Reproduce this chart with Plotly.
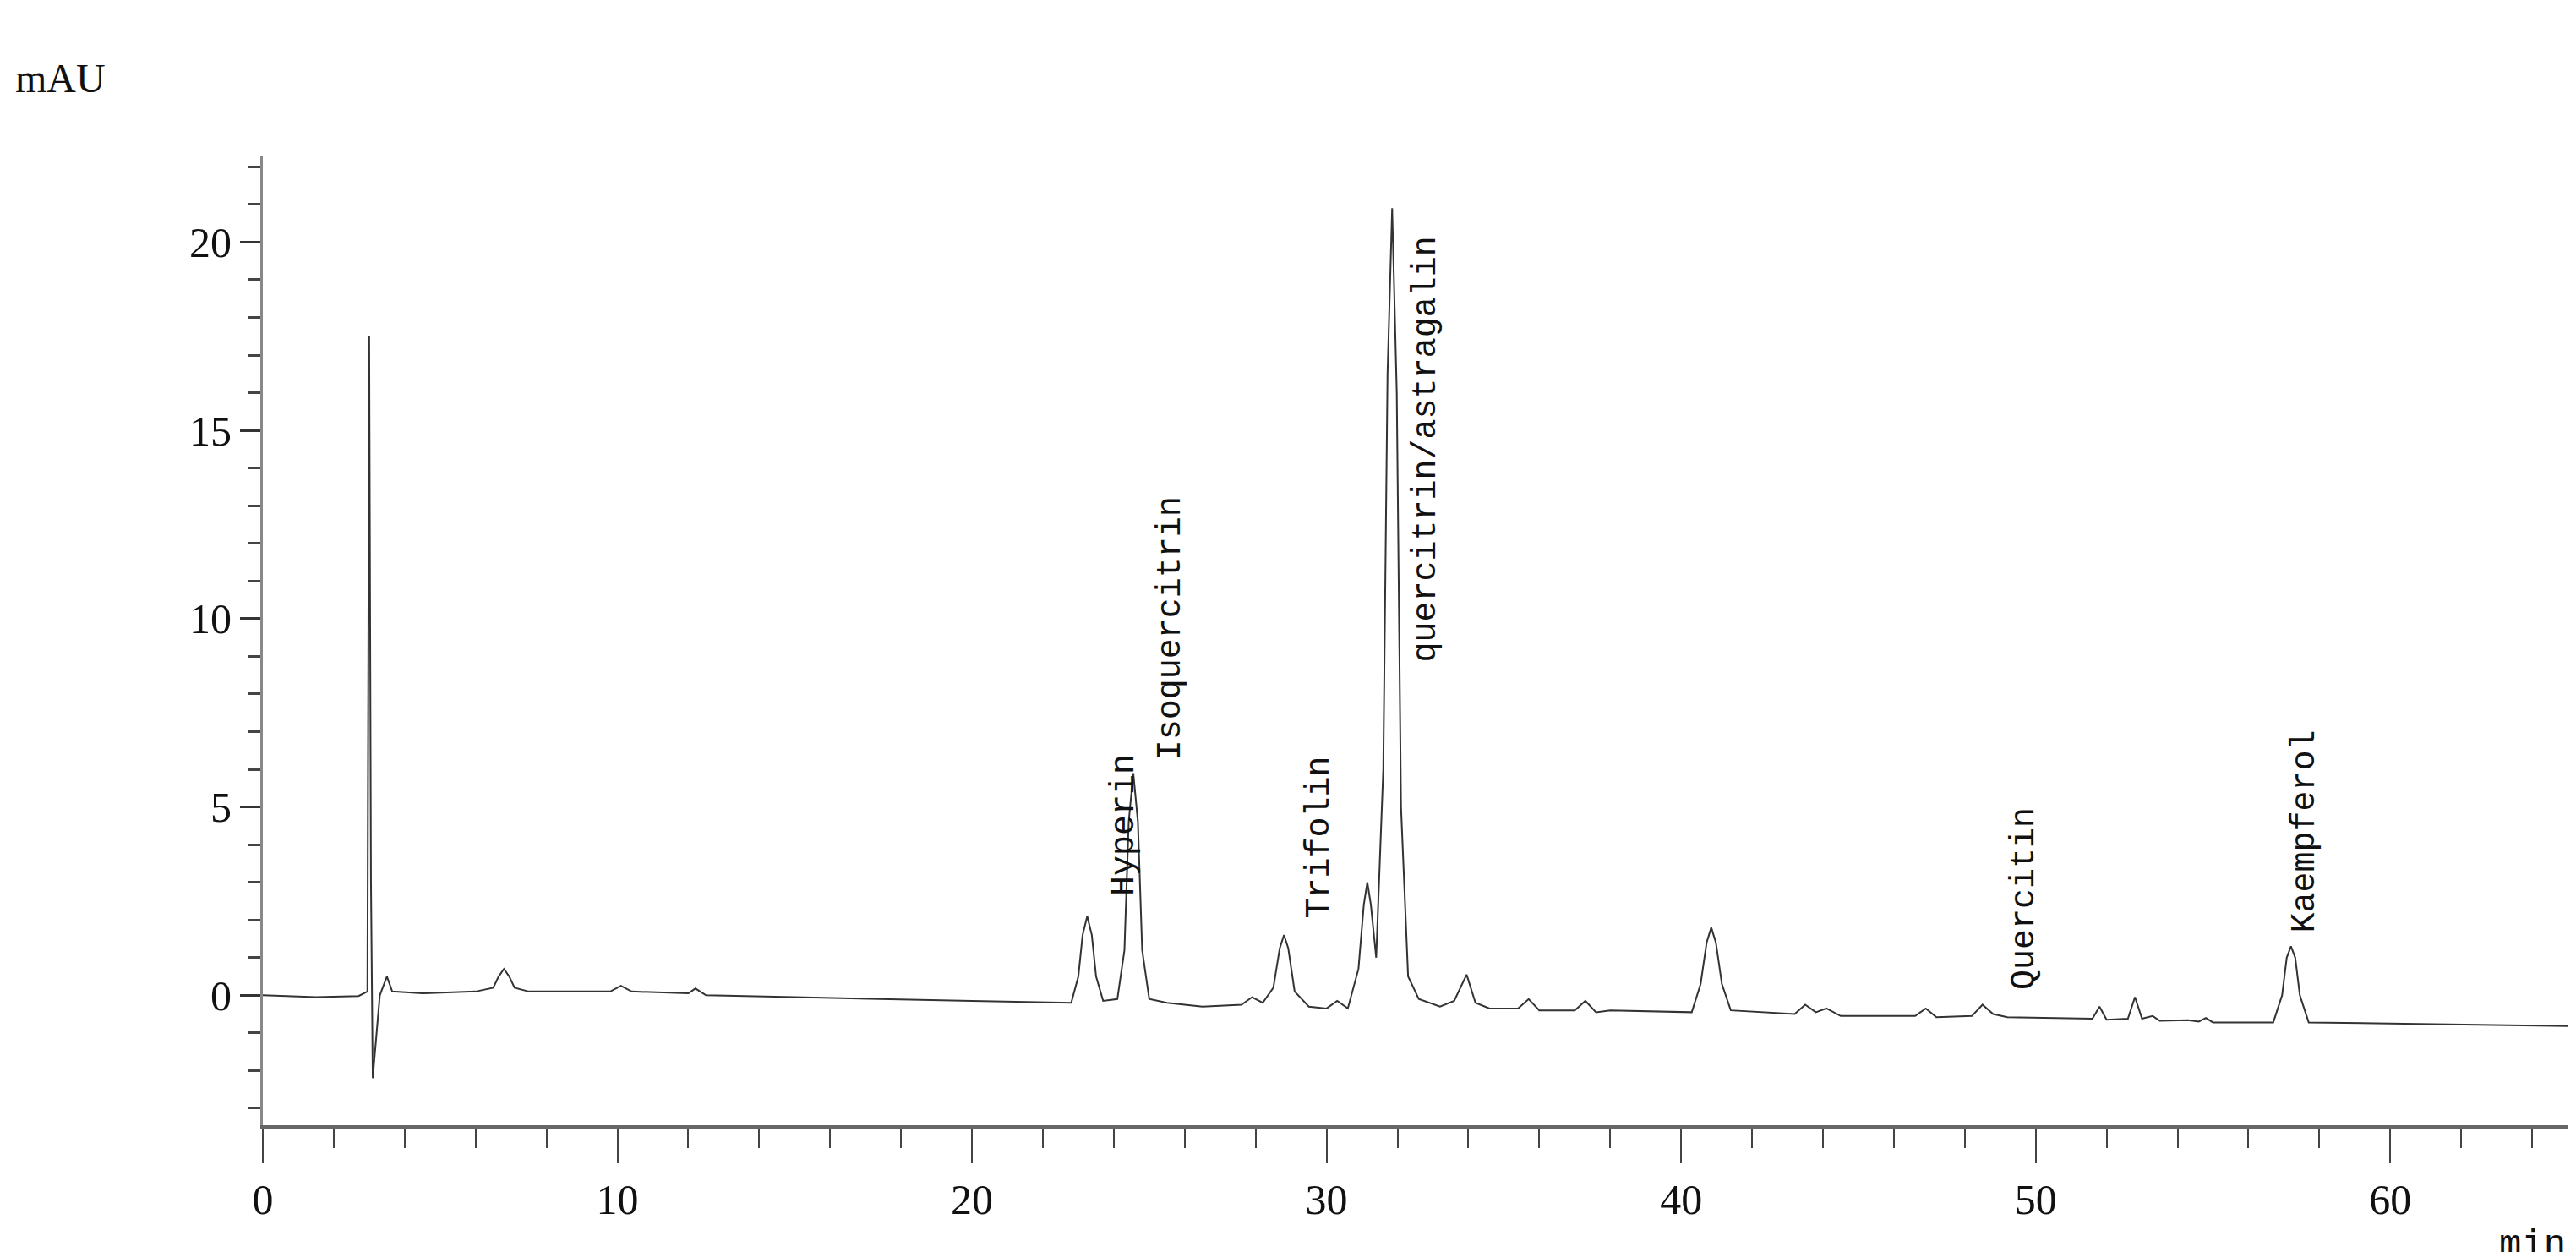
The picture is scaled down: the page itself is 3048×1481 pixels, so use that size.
import plotly.graph_objects as go

# retention time (min) and absorbance (mAU)
time_min = [0, 1.5, 2.7, 2.95, 3.0, 3.05, 3.1, 3.2, 3.3, 3.5, 3.65, 4.5, 6.0, 6.5, 6.65, 6.8, 6.95, 7.1, 7.5,
            9.8, 10.1, 10.4, 12.0, 12.2, 12.5, 15, 18, 20, 22.8, 23.0, 23.12, 23.25, 23.38, 23.5, 23.7,
            24.1, 24.3, 24.42, 24.55, 24.68, 24.8, 25.0, 25.5, 26.5, 27.6, 27.9, 28.2, 28.5, 28.68, 28.8,
            28.92, 29.1, 29.5, 30.0, 30.3, 30.6, 30.9, 31.05, 31.15, 31.25, 31.4, 31.6, 31.72, 31.85,
            31.98, 32.1, 32.3, 32.6, 33.2, 33.6, 33.95, 34.2, 34.6, 35.4, 35.7, 36.0, 37.0, 37.3, 37.6,
            38.0, 40.3, 40.55, 40.72, 40.85, 40.98, 41.15, 41.4, 43.2, 43.5, 43.8, 44.1, 44.5, 46.6,
            46.9, 47.2, 48.2, 48.5, 48.8, 49.2, 51.6, 51.8, 52.0, 52.6, 52.8, 53.0, 53.3, 53.5, 54.3,
            54.6, 54.8, 55.0, 56.7, 56.95, 57.08, 57.2, 57.32, 57.45, 57.7, 60, 62, 65]
signal_mau = [0.0, -0.05, -0.02, 0.1, 17.5, 3.0, -2.2, -1.0, 0.0, 0.5, 0.1, 0.05, 0.1, 0.2, 0.5, 0.7, 0.5, 0.2, 0.1,
              0.1, 0.25, 0.1, 0.05, 0.18, 0.0, -0.05, -0.12, -0.15, -0.2, 0.5, 1.6, 2.1, 1.6, 0.5, -0.15,
              -0.1, 1.2, 4.6, 5.9, 4.6, 1.2, -0.1, -0.2, -0.3, -0.25, -0.05, -0.2, 0.2, 1.25, 1.6,
              1.25, 0.1, -0.3, -0.35, -0.15, -0.35, 0.7, 2.4, 3.0, 2.4, 1.0, 6.0, 16.5, 20.9,
              16.0, 5.0, 0.5, -0.1, -0.3, -0.15, 0.55, -0.2, -0.35, -0.35, -0.1, -0.4, -0.4, -0.15, -0.45,
              -0.4, -0.45, 0.3, 1.4, 1.8, 1.4, 0.3, -0.4, -0.5, -0.25, -0.45, -0.35, -0.55, -0.55,
              -0.35, -0.58, -0.55, -0.25, -0.5, -0.58, -0.62, -0.3, -0.65, -0.62, -0.05, -0.62, -0.55, -0.68, -0.66,
              -0.7, -0.6, -0.72, -0.72, 0.0, 1.0, 1.3, 1.0, 0.0, -0.72, -0.75, -0.78, -0.82]

# peak labels: name, x position (min), bottom of the text (mAU)
peak_names = ["Hyperin", "Isoquercitrin", "Trifolin", "quercitrin/astragalin", "Quercitin", "Kaempferol"]
label_x = [24.3, 25.6, 29.8, 32.8, 49.7, 57.6]
label_y = [2.6, 6.2, 2.0, 8.8, 0.1, 1.6]

fig = go.Figure()
fig.add_trace(go.Scatter(x=time_min, y=signal_mau, mode="lines",
                         line=dict(color="#333333", width=2), showlegend=False))

for name, x, y in zip(peak_names, label_x, label_y):
    fig.add_annotation(x=x, y=y, text=name, showarrow=False, textangle=-90,
                       yanchor="bottom", xanchor="center",
                       font=dict(family="Liberation Mono", size=40, color="#111111"))

fig.add_annotation(xref="paper", yref="paper", x=-0.108, y=1.105, text="mAU", showarrow=False,
                   xanchor="left", font=dict(family="Liberation Serif", size=48, color="#111111"))
fig.add_annotation(xref="paper", yref="paper", x=1.0, y=-0.1, text="min", showarrow=False,
                   xanchor="right", yanchor="top",
                   font=dict(family="Liberation Mono", size=44, color="#111111"))

fig.update_layout(
    width=3048, height=1481,
    paper_bgcolor="white", plot_bgcolor="white",
    margin=dict(l=303, r=18, t=176, b=158),
    font=dict(family="Liberation Serif", size=50, color="#111111"),
    xaxis=dict(range=[0, 65], dtick=10, showgrid=False, zeroline=False,
               showline=True, linecolor="#666666", linewidth=5,
               ticks="outside", ticklen=40, tickwidth=2, tickcolor="#444444",
               minor=dict(dtick=2, ticks="outside", ticklen=22, tickwidth=2, tickcolor="#444444")),
    yaxis=dict(range=[-3.45, 22.3], tickvals=[0, 5, 10, 15, 20], showgrid=False, zeroline=False,
               showline=True, linecolor="#888888", linewidth=3,
               ticks="outside", ticklen=24, tickwidth=3, tickcolor="#333333",
               minor=dict(dtick=1, ticks="outside", ticklen=14, tickwidth=3, tickcolor="#444444")),
)

fig.write_html("out.html")
